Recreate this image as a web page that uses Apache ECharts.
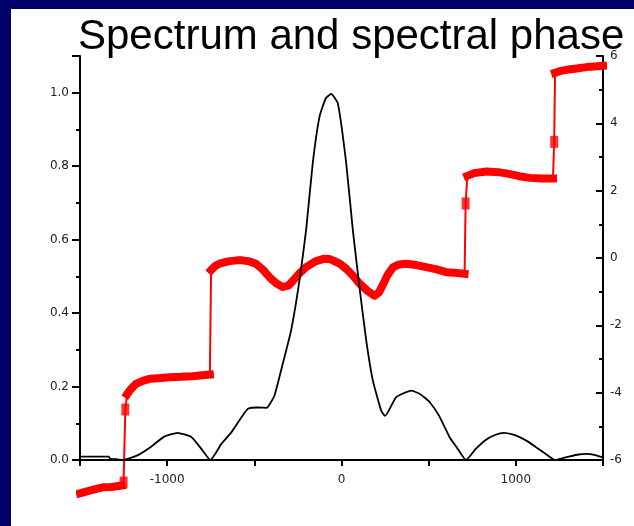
<!DOCTYPE html>
<html><head><meta charset="utf-8">
<script src="https://cdn.jsdelivr.net/npm/echarts@6/dist/echarts.min.js"></script>
<style>
html,body{margin:0;padding:0;background:#000066;width:634px;height:526px;overflow:hidden}
#c{position:absolute;left:11px;top:9px;width:623px;height:517px;background:#fff}
</style></head>
<body><div id="c"></div>
<script>
// ---- data ----
const titleText = "Spectrum and spectral phase";
const xTickLabels = ["-1000", "0", "1000"];
// spectrum (left axis)
const specX = [-1500,-1420,-1335,-1325,-1290,-1252,-1174,-1096,-1019,-941,-863,-805,-752,-689,-631,-572,-534,-480,-430,-385,-337,-289,-241,-203,-165,-126,-90,-59,-21,27,65,103,142,180,228,250,314,400,450,505,560,620,660,714,770,825,880,932,980,1019,1070,1116,1170,1223,1260,1310,1360,1407,1450,1484,1500];
const specY = [0.009,0.009,0.009,0.003,0.002,0.0,0.012,0.035,0.063,0.074,0.063,0.031,0.0,0.044,0.076,0.118,0.140,0.143,0.142,0.175,0.262,0.353,0.489,0.626,0.808,0.935,0.985,0.997,0.971,0.808,0.626,0.471,0.325,0.216,0.134,0.120,0.171,0.189,0.180,0.158,0.120,0.062,0.035,0.0,0.030,0.054,0.068,0.074,0.070,0.063,0.050,0.035,0.017,0.0,0.004,0.010,0.015,0.0165,0.014,0.009,0.008];
// spectral phase (right axis), flat segments
const phaseA = [[-1500,-6.99],[-1460,-6.93],[-1428,-6.89],[-1370,-6.81],[-1320,-6.80],[-1262,-6.76]];
const phaseB = [[-1230,-4.05],[-1217,-3.95],[-1200,-3.85],[-1179,-3.74],[-1140,-3.65],[-1102,-3.59],[-1050,-3.57],[-987,-3.54],[-920,-3.53],[-854,-3.51],[-800,-3.48],[-755,-3.46]];
const phaseC = [[-748,-0.36],[-725,-0.24],[-700,-0.17],[-650,-0.10],[-600,-0.07],[-567,-0.07],[-530,-0.10],[-491,-0.17],[-450,-0.35],[-413,-0.57],[-375,-0.75],[-337,-0.86],[-305,-0.82],[-279,-0.68],[-240,-0.45],[-203,-0.27],[-150,-0.10],[-98,-0.02],[-70,-0.03],[-50,-0.07],[-10,-0.17],[27,-0.32],[65,-0.52],[103,-0.76],[150,-0.98],[189,-1.12],[215,-1.02],[237,-0.80],[265,-0.50],[295,-0.28],[330,-0.19],[371,-0.17],[430,-0.21],[486,-0.27],[540,-0.33],[601,-0.42],[650,-0.44],[706,-0.47]];
const phaseD = [[722,2.44],[760,2.52],[831,2.57],[900,2.55],[960,2.50],[1020,2.43],[1080,2.38],[1150,2.36],[1213,2.36]];
const phaseE = [[1225,5.50],[1260,5.56],[1290,5.59],[1350,5.63],[1405,5.67],[1450,5.69],[1500,5.71]];
// isolated points on the phase jumps
const phaseJumpPts = [[-1250,-6.67],[-1240,-4.5],[712,1.62],[1220,3.45]];

// ---- chart ----
const FONT = 'DejaVu Sans';
const LBL = '#222';
const chart = echarts.init(document.getElementById('c'), null, {renderer:'canvas'});
const segs = [phaseA, phaseB, phaseC, phaseD, phaseE];
const allPhase = segs.flat().concat(phaseJumpPts).sort((a,b)=>a[0]-b[0]);
const series = [];
series.push({type:'line', yAxisIndex:1, data:allPhase, showSymbol:false, clip:false,
  lineStyle:{color:'#ff0000', width:2}, z:2, silent:true});
segs.forEach(s => series.push({type:'line', yAxisIndex:1, data:s, showSymbol:false, clip:false,
  lineStyle:{color:'#ff0000', width:8, cap:'square', join:'round'}, z:2, silent:true}));
series.push({type:'scatter', yAxisIndex:1, data:phaseJumpPts, symbol:'rect', symbolSize:[8,12], clip:false,
  itemStyle:{color:'#ff0000'}, z:2, silent:true});
series.push({type:'line', yAxisIndex:0, data:specX.map((x,i)=>[x,specY[i]]), showSymbol:false,
  smooth:0.15, lineStyle:{color:'#000', width:1.8}, z:3, silent:true});

chart.setOption({
  animation:false,
  backgroundColor:'#fff',
  title:{text:titleText, left:67, top:6, padding:0,
    textStyle:{fontFamily:'Liberation Sans', fontSize:42, fontWeight:'normal', color:'#000', lineHeight:44}},
  grid:{left:69, right:31, top:47, bottom:66},
  xAxis:{type:'value', min:-1500, max:1500, interval:500,
    axisLine:{onZero:false, lineStyle:{color:'#000', width:2}},
    axisTick:{show:true, length:6, lineStyle:{color:'#000', width:2}},
    axisLabel:{margin:14, fontFamily:FONT, fontSize:12, color:LBL,
      formatter:v=>{const s=String(v); return xTickLabels.includes(s)?s:'';}},
    splitLine:{show:false}},
  yAxis:[
    {type:'value', position:'left', min:0, max:1.1, interval:0.2,
      axisLine:{show:true, onZero:false, lineStyle:{color:'#000', width:2}},
      axisTick:{show:true, length:8, lineStyle:{color:'#000', width:2}},
      minorTick:{show:true, splitNumber:2, length:4, lineStyle:{color:'#000', width:2}},
      axisLabel:{margin:11, fontFamily:FONT, fontSize:12, color:LBL,
        formatter:v=>{const k=v*5; return (Math.abs(k-Math.round(k))<1e-6 && v<1.05)? v.toFixed(1):'';}},
      splitLine:{show:false}},
    {type:'value', position:'right', min:-6, max:6, interval:2,
      axisLine:{show:true, onZero:false, lineStyle:{color:'#000', width:2}},
      axisTick:{show:true, inside:true, length:7, lineStyle:{color:'#000', width:2}},
      minorTick:{show:true, splitNumber:2, length:4, lineStyle:{color:'#000', width:2}},
      axisLabel:{margin:7, fontFamily:FONT, fontSize:12, color:LBL, formatter:v=>String(v)},
      splitLine:{show:false}}
  ],
  series:series
});
</script></body></html>
